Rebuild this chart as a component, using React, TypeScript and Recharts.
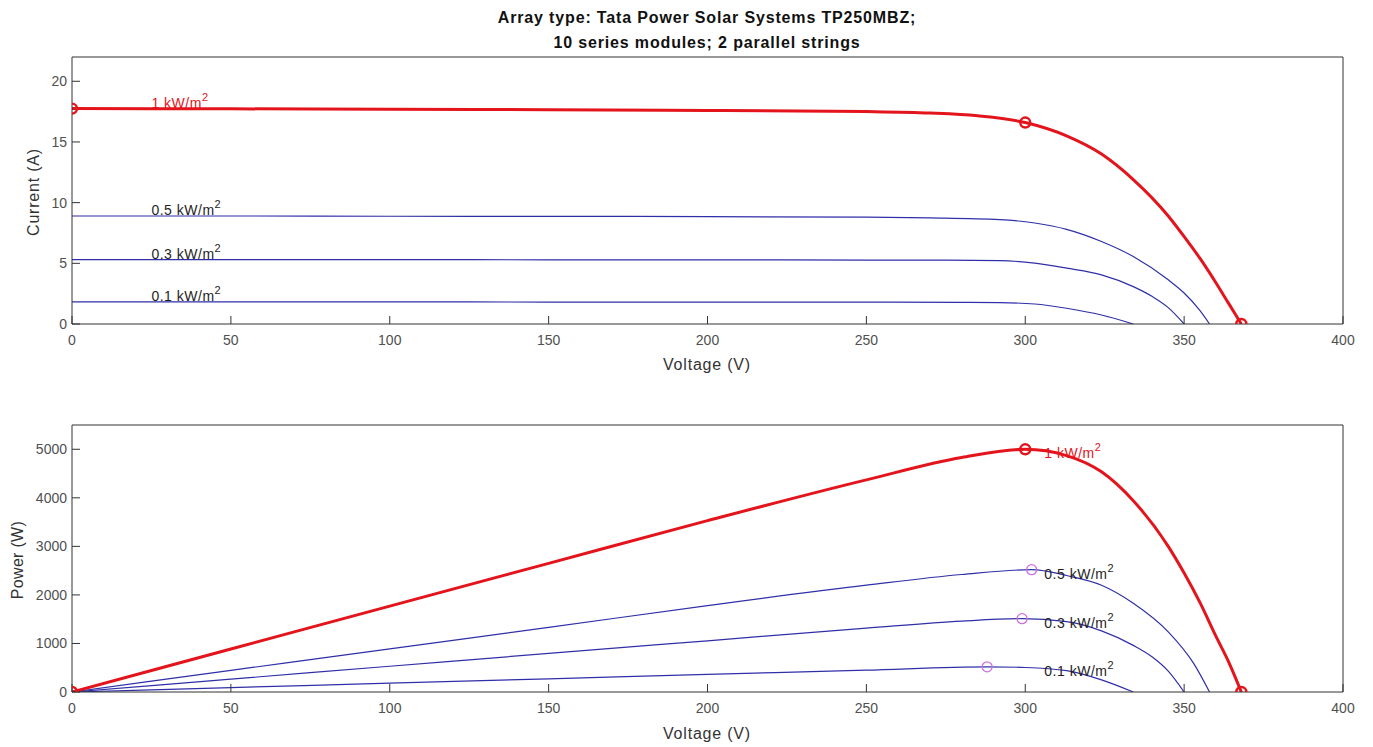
import { ComposedChart, Line, Scatter, XAxis, YAxis } from "recharts"

const FONT = '"Liberation Sans", Arial, Helvetica, sans-serif'
const RED = "#e3141c"
const BLUE = "#2f2fa8"
const MAGENTA = "#cf6fe0"
const AXIS = "#333333"
const TICK_TXT = "#505050"

// I-V curves (voltage V, current A)
const ivVolt1 = [0, 50, 100, 150, 200, 250, 270, 285, 300, 313, 324, 334, 345, 350, 355, 360, 364, 368]
const ivAmp1 = [17.75, 17.73, 17.7, 17.66, 17.6, 17.5, 17.38, 17.15, 16.6, 15.5, 14.0, 11.9, 8.9, 7.2, 5.4, 3.4, 1.7, 0]
const ivVolt05 = [0, 50, 100, 150, 200, 250, 270, 292, 303, 313, 324, 334, 345, 350, 355, 358]
const ivAmp05 = [8.9, 8.9, 8.88, 8.87, 8.85, 8.8, 8.74, 8.6, 8.32, 7.8, 6.8, 5.56, 3.64, 2.55, 1.1, 0]
const ivVolt03 = [0, 50, 100, 150, 200, 250, 275, 292, 303, 313, 324, 334, 340, 345, 350]
const ivAmp03 = [5.3, 5.3, 5.3, 5.29, 5.28, 5.27, 5.26, 5.23, 5.01, 4.6, 4.05, 3.08, 2.26, 1.35, 0]
const ivVolt01 = [0, 50, 100, 150, 200, 250, 280, 292, 303, 313, 324, 334]
const ivAmp01 = [1.82, 1.82, 1.82, 1.81, 1.81, 1.8, 1.78, 1.76, 1.65, 1.3, 0.74, 0]

// P-V curves (voltage V, power W)
const pvVolt1 = [0, 50, 100, 150, 200, 250, 280, 300, 313, 324, 334, 345, 350, 355, 360, 364, 368]
const pvWatt1 = [0, 885, 1770, 2650, 3530, 4370, 4830, 5000, 4870, 4535, 3940, 3000, 2450, 1840, 1150, 620, 0]
const pvVolt05 = [0, 50, 100, 150, 200, 250, 280, 302, 313, 324, 334, 345, 353, 358]
const pvWatt05 = [0, 445, 890, 1330, 1780, 2200, 2420, 2520, 2400, 2200, 1830, 1240, 590, 0]
const pvVolt03 = [0, 50, 100, 150, 200, 250, 280, 299, 313, 324, 334, 340, 345, 350]
const pvWatt03 = [0, 265, 530, 795, 1055, 1315, 1460, 1510, 1450, 1260, 960, 720, 430, 0]
const pvVolt01 = [0, 50, 100, 150, 200, 250, 288, 300, 313, 324, 334]
const pvWatt01 = [0, 91, 182, 272, 362, 450, 519, 505, 440, 250, 0]

// marked points (red: Isc / MPP / Voc of 1 kW/m2, magenta: MPP of the others)
const ivMarkVolt = [0, 300, 368]
const ivMarkAmp = [17.75, 16.6, 0]
const pvMarkVolt = [0, 300, 368]
const pvMarkWatt = [0, 5000, 0]
const mppVolt = [302, 299, 288]
const mppWatt = [2520, 1510, 519]

// curve labels and where they are anchored
const irradiance = ["1 kW/m", "0.5 kW/m", "0.3 kW/m", "0.1 kW/m"]
const ivLabelVolt = [25, 25, 25, 25]
const ivLabelAmp = [17.75, 8.9, 5.3, 1.82]
const pvLabelVolt = [306, 306, 306, 306]
const pvLabelWatt = [5000, 2520, 1510, 519]

const voltTicks = [0, 50, 100, 150, 200, 250, 300, 350, 400]
const currentTicks = [0, 5, 10, 15, 20]
const powerTicks = [0, 1000, 2000, 3000, 4000, 5000]

const pts = (xs: number[], ys: number[]) => xs.map((x, k) => ({ x, y: ys[k] }))
const labelPts = (xs: number[], ys: number[]) =>
  xs.map((x, k) => ({ x, y: ys[k], text: irradiance[k], red: k === 0 }))

const ivCurves = [
  { key: "iv01", data: pts(ivVolt01, ivAmp01), color: BLUE, width: 1.2 },
  { key: "iv03", data: pts(ivVolt03, ivAmp03), color: BLUE, width: 1.2 },
  { key: "iv05", data: pts(ivVolt05, ivAmp05), color: BLUE, width: 1.2 },
  { key: "iv1", data: pts(ivVolt1, ivAmp1), color: RED, width: 3 },
]
const pvCurves = [
  { key: "pv01", data: pts(pvVolt01, pvWatt01), color: BLUE, width: 1.2 },
  { key: "pv03", data: pts(pvVolt03, pvWatt03), color: BLUE, width: 1.2 },
  { key: "pv05", data: pts(pvVolt05, pvWatt05), color: BLUE, width: 1.2 },
  { key: "pv1", data: pts(pvVolt1, pvWatt1), color: RED, width: 3 },
]

const circle = (color: string, sw: number) => (p: any) =>
  <circle cx={p.cx} cy={p.cy} r={5} fill="none" stroke={color} strokeWidth={sw} />

const curveLabel = (dy: number) => (p: any) => (
  <text
    x={p.cx}
    y={p.cy + dy}
    fill={p.payload.red ? RED : "#1e1e1e"}
    fontSize={14}
    letterSpacing={0.5}
    fontFamily={FONT}
  >
    {p.payload.text}
    <tspan dy={-7} fontSize={11}>2</tspan>
  </text>
)

type PanelProps = {
  curves: { key: string; data: { x: number; y: number }[]; color: string; width: number }[]
  yDomain: number[]
  yTicks: number[]
  redMarks: { x: number; y: number }[]
  pinkMarks?: { x: number; y: number }[]
  labels: { x: number; y: number; text: string; red: boolean }[]
  labelDy: number
}

function Panel({ curves, yDomain, yTicks, redMarks, pinkMarks, labels, labelDy }: PanelProps) {
  const tick = { fill: TICK_TXT, fontSize: 14, fontFamily: FONT }
  return (
    <ComposedChart width={1373} height={390} margin={{ top: 56, right: 29, left: 12, bottom: 6 }}>
      <XAxis
        type="number"
        dataKey="x"
        domain={[0, 400]}
        ticks={voltTicks}
        allowDataOverflow
        height={60}
        tick={tick}
        tickSize={-8}
        tickMargin={19}
        stroke={AXIS}
      />
      <XAxis
        xAxisId="top"
        orientation="top"
        type="number"
        domain={[0, 400]}
        ticks={voltTicks}
        height={1}
        tick={false}
        tickSize={-8}
        stroke={AXIS}
      />
      <YAxis
        type="number"
        domain={yDomain}
        ticks={yTicks}
        allowDataOverflow
        width={60}
        tick={tick}
        tickSize={-8}
        tickMargin={13}
        stroke={AXIS}
      />
      <YAxis
        yAxisId="right"
        orientation="right"
        type="number"
        domain={yDomain}
        ticks={yTicks}
        width={1}
        tick={false}
        tickSize={-8}
        stroke={AXIS}
      />
      {curves.map((c) => (
        <Line
          key={c.key}
          data={c.data}
          dataKey="y"
          type="monotone"
          stroke={c.color}
          strokeWidth={c.width}
          dot={false}
          activeDot={false}
          isAnimationActive={false}
        />
      ))}
      <Scatter data={labels} dataKey="y" shape={curveLabel(labelDy)} isAnimationActive={false} />
      {pinkMarks && (
        <Scatter data={pinkMarks} dataKey="y" shape={circle(MAGENTA, 1.3)} isAnimationActive={false} />
      )}
      <Scatter data={redMarks} dataKey="y" shape={circle(RED, 2.4)} isAnimationActive={false} />
    </ComposedChart>
  )
}

export default function App() {
  const title = { fontFamily: FONT, fontSize: 16, fontWeight: 700, letterSpacing: 0.85, fill: "#111" }
  const axisTitle = { fontFamily: FONT, fontSize: 16, fill: "#333", letterSpacing: 0.8 }
  return (
    <div style={{ position: "absolute", left: 0, top: 0, width: 1373, height: 747, background: "#fff" }}>
      <div style={{ position: "absolute", left: 0, top: 0 }}>
        <Panel
          curves={ivCurves}
          yDomain={[0, 22]}
          yTicks={currentTicks}
          redMarks={pts(ivMarkVolt, ivMarkAmp)}
          labels={labelPts(ivLabelVolt, ivLabelAmp)}
          labelDy={-1}
        />
      </div>
      <div style={{ position: "absolute", left: 0, top: 368 }}>
        <Panel
          curves={pvCurves}
          yDomain={[0, 5500]}
          yTicks={powerTicks}
          redMarks={pts(pvMarkVolt, pvMarkWatt)}
          pinkMarks={pts(mppVolt, mppWatt)}
          labels={labelPts(pvLabelVolt, pvLabelWatt)}
          labelDy={9}
        />
      </div>
      <svg width={1373} height={747} style={{ position: "absolute", left: 0, top: 0, pointerEvents: "none" }}>
        <text x={707} y={23} textAnchor="middle" {...title}>
          Array type: Tata Power Solar Systems TP250MBZ;
        </text>
        <text x={707} y={48} textAnchor="middle" {...title}>
          10 series modules; 2 parallel strings
        </text>
        <text x={707} y={370} textAnchor="middle" {...axisTitle}>
          Voltage (V)
        </text>
        <text x={707} y={739} textAnchor="middle" {...axisTitle}>
          Voltage (V)
        </text>
        <text x={39} y={192} textAnchor="middle" transform="rotate(-90 39 192)" {...axisTitle}>
          Current (A)
        </text>
        <text x={23} y={560} textAnchor="middle" transform="rotate(-90 23 560)" {...axisTitle} letterSpacing={0.3}>
          Power (W)
        </text>
      </svg>
    </div>
  )
}
